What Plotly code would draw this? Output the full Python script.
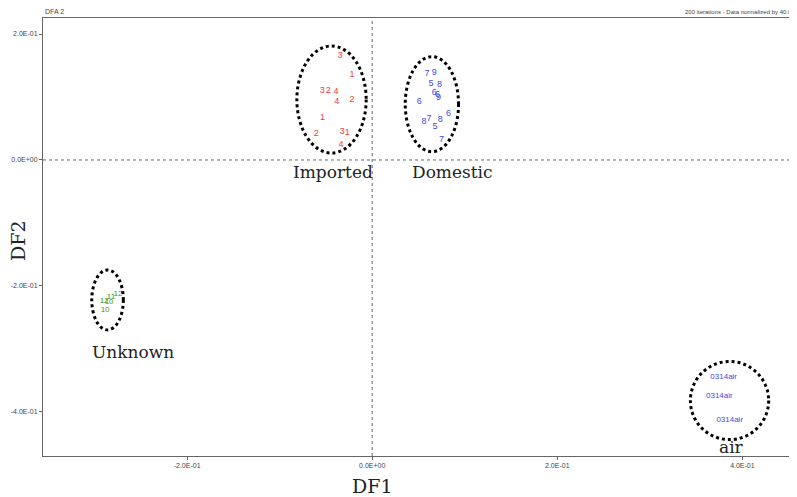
import plotly.graph_objects as go

# ---- data ----
imported_labels = ["3", "1", "3", "2", "4", "4", "2", "1", "2", "3", "1", "4"]
imported_x = [-0.0346, -0.0219, -0.0540, -0.0476, -0.0392, -0.0382, -0.0219, -0.0537, -0.0605, -0.0324, -0.0270, -0.0338]
imported_y = [0.165, 0.135, 0.110, 0.110, 0.108, 0.0925, 0.0952, 0.0678, 0.0424, 0.045, 0.0437, 0.0238]

domestic_labels = ["7", "9", "5", "8", "6", "6", "9", "6", "8", "7", "5", "8", "6", "7"]
domestic_x = [0.0591, 0.0670, 0.0635, 0.0728, 0.0670, 0.0706, 0.0717, 0.0508, 0.0559, 0.0613, 0.0678, 0.0735, 0.0825, 0.0749]
domestic_y = [0.1365, 0.1386, 0.1217, 0.119, 0.1068, 0.1032, 0.098, 0.0925, 0.0608, 0.0662, 0.0529, 0.0635, 0.0741, 0.0317]

unknown_labels = ["11", "12", "12", "10", "10"]
unknown_x = [-0.2822, -0.2746, -0.2897, -0.2843, -0.2886]
unknown_y = [-0.2175, -0.2127, -0.2238, -0.2254, -0.2381]

air_labels = ["0314air", "0314air", "0314air"]
air_x = [0.3798, 0.3751, 0.3863]
air_y = [-0.345, -0.374, -0.4127]

group_names = ["Imported", "Domestic", "Unknown", "air"]
group_label_x = [-0.0422, 0.0865, -0.2584, 0.388]
group_label_y = [-0.019, -0.019, -0.3048, -0.4556]
# ellipse extents per group: x0, x1, y0, y1
ellipse_x0 = [-0.0814, 0.0357, -0.303, 0.3438]
ellipse_x1 = [-0.0065, 0.0933, -0.2689, 0.4284]
ellipse_y0 = [0.0111, 0.0132, -0.2698, -0.444]
ellipse_y1 = [0.181, 0.164, -0.1746, -0.320]

tick_vals = [-0.4, -0.2, 0.0, 0.2, 0.4]
tick_text = ["-4.0E-01", "-2.0E-01", "0.0E+00", "2.0E-01", "4.0E-01"]

x_range = [-0.3557, 0.459]
y_range = [-0.47, 0.2254]

# ---- figure ----
fig = go.Figure()
label_font = "Liberation Sans, Arial, sans-serif"
for lab, xs, ys, col, sz in [
    (imported_labels, imported_x, imported_y, "#f03a3a", 9),
    (domestic_labels, domestic_x, domestic_y, "#4646e8", 9),
    (unknown_labels, unknown_x, unknown_y, "#2e9e2e", 8),
    (air_labels, air_x, air_y, "#4646e8", 8),
]:
    fig.add_trace(go.Scatter(
        x=xs, y=ys, text=lab, mode="text",
        textfont=dict(color=col, size=sz, family=label_font),
        textposition="middle center", showlegend=False, hoverinfo="skip"))

# zero reference lines
fig.add_shape(type="line", xref="x", yref="paper", x0=0, x1=0, y0=0, y1=1,
              line=dict(color="#666666", width=1, dash="dot"), layer="below")
fig.add_shape(type="line", xref="paper", yref="y", x0=0, x1=1, y0=0, y1=0,
              line=dict(color="#666666", width=1, dash="dot"), layer="below")

serif = dict(family="DejaVu Serif, serif", size=17, color="#222222")
for i in range(len(group_names)):
    fig.add_shape(type="circle", xref="x", yref="y",
                  x0=ellipse_x0[i], x1=ellipse_x1[i], y0=ellipse_y0[i], y1=ellipse_y1[i],
                  line=dict(color="black", width=3, dash="dot"))
    fig.add_annotation(x=group_label_x[i], y=group_label_y[i], text=group_names[i],
                       showarrow=False, xanchor="center", yanchor="middle", font=serif)

small_font = dict(family="Liberation Sans Narrow, Arial Narrow, Liberation Sans, sans-serif", size=7, color="#444444")

fig.add_annotation(xref="paper", yref="paper", x=0, y=1, yshift=1, text="DFA 2",
                   showarrow=False, xanchor="left", yanchor="bottom", font=small_font)
fig.add_annotation(xref="paper", yref="paper", x=1, y=1, yshift=1,
                   text="200 iterations - Data normalized by 40.00",
                   showarrow=False, xanchor="right", yanchor="bottom",
                   font=dict(family=small_font["family"], size=6, color="#444444"))

# axis titles
title_font = dict(family="DejaVu Serif, serif", size=19, color="#222222")
fig.add_annotation(xref="x", yref="paper", x=0, y=0, yshift=-30, text="DF1",
                   showarrow=False, xanchor="center", yanchor="middle", font=title_font)
fig.add_annotation(xref="paper", yref="paper", x=0, y=0.5, xshift=-25, yshift=-4,
                   text="DF2", textangle=-90,
                   showarrow=False, xanchor="center", yanchor="middle", font=title_font)

# the page body adds an 8px offset, so the figure is 8px smaller than the window
fig.update_layout(
    width=789, height=489,
    margin=dict(l=35, r=0, t=10, b=41),
    paper_bgcolor="white", plot_bgcolor="white",
    xaxis=dict(range=x_range, tickvals=tick_vals, ticktext=tick_text, automargin=False,
               showgrid=False, zeroline=False, showline=True, linecolor="#666666",
               linewidth=1, mirror=True, ticks="outside", ticklen=3, tickcolor="#666666",
               tickfont=small_font),
    yaxis=dict(range=y_range, tickvals=tick_vals, ticktext=tick_text, automargin=False,
               showgrid=False, zeroline=False, showline=True, linecolor="#666666",
               linewidth=1, mirror=False, ticks="outside", ticklen=3, tickcolor="#666666",
               tickfont=small_font),
)

fig.write_html("out.html")
